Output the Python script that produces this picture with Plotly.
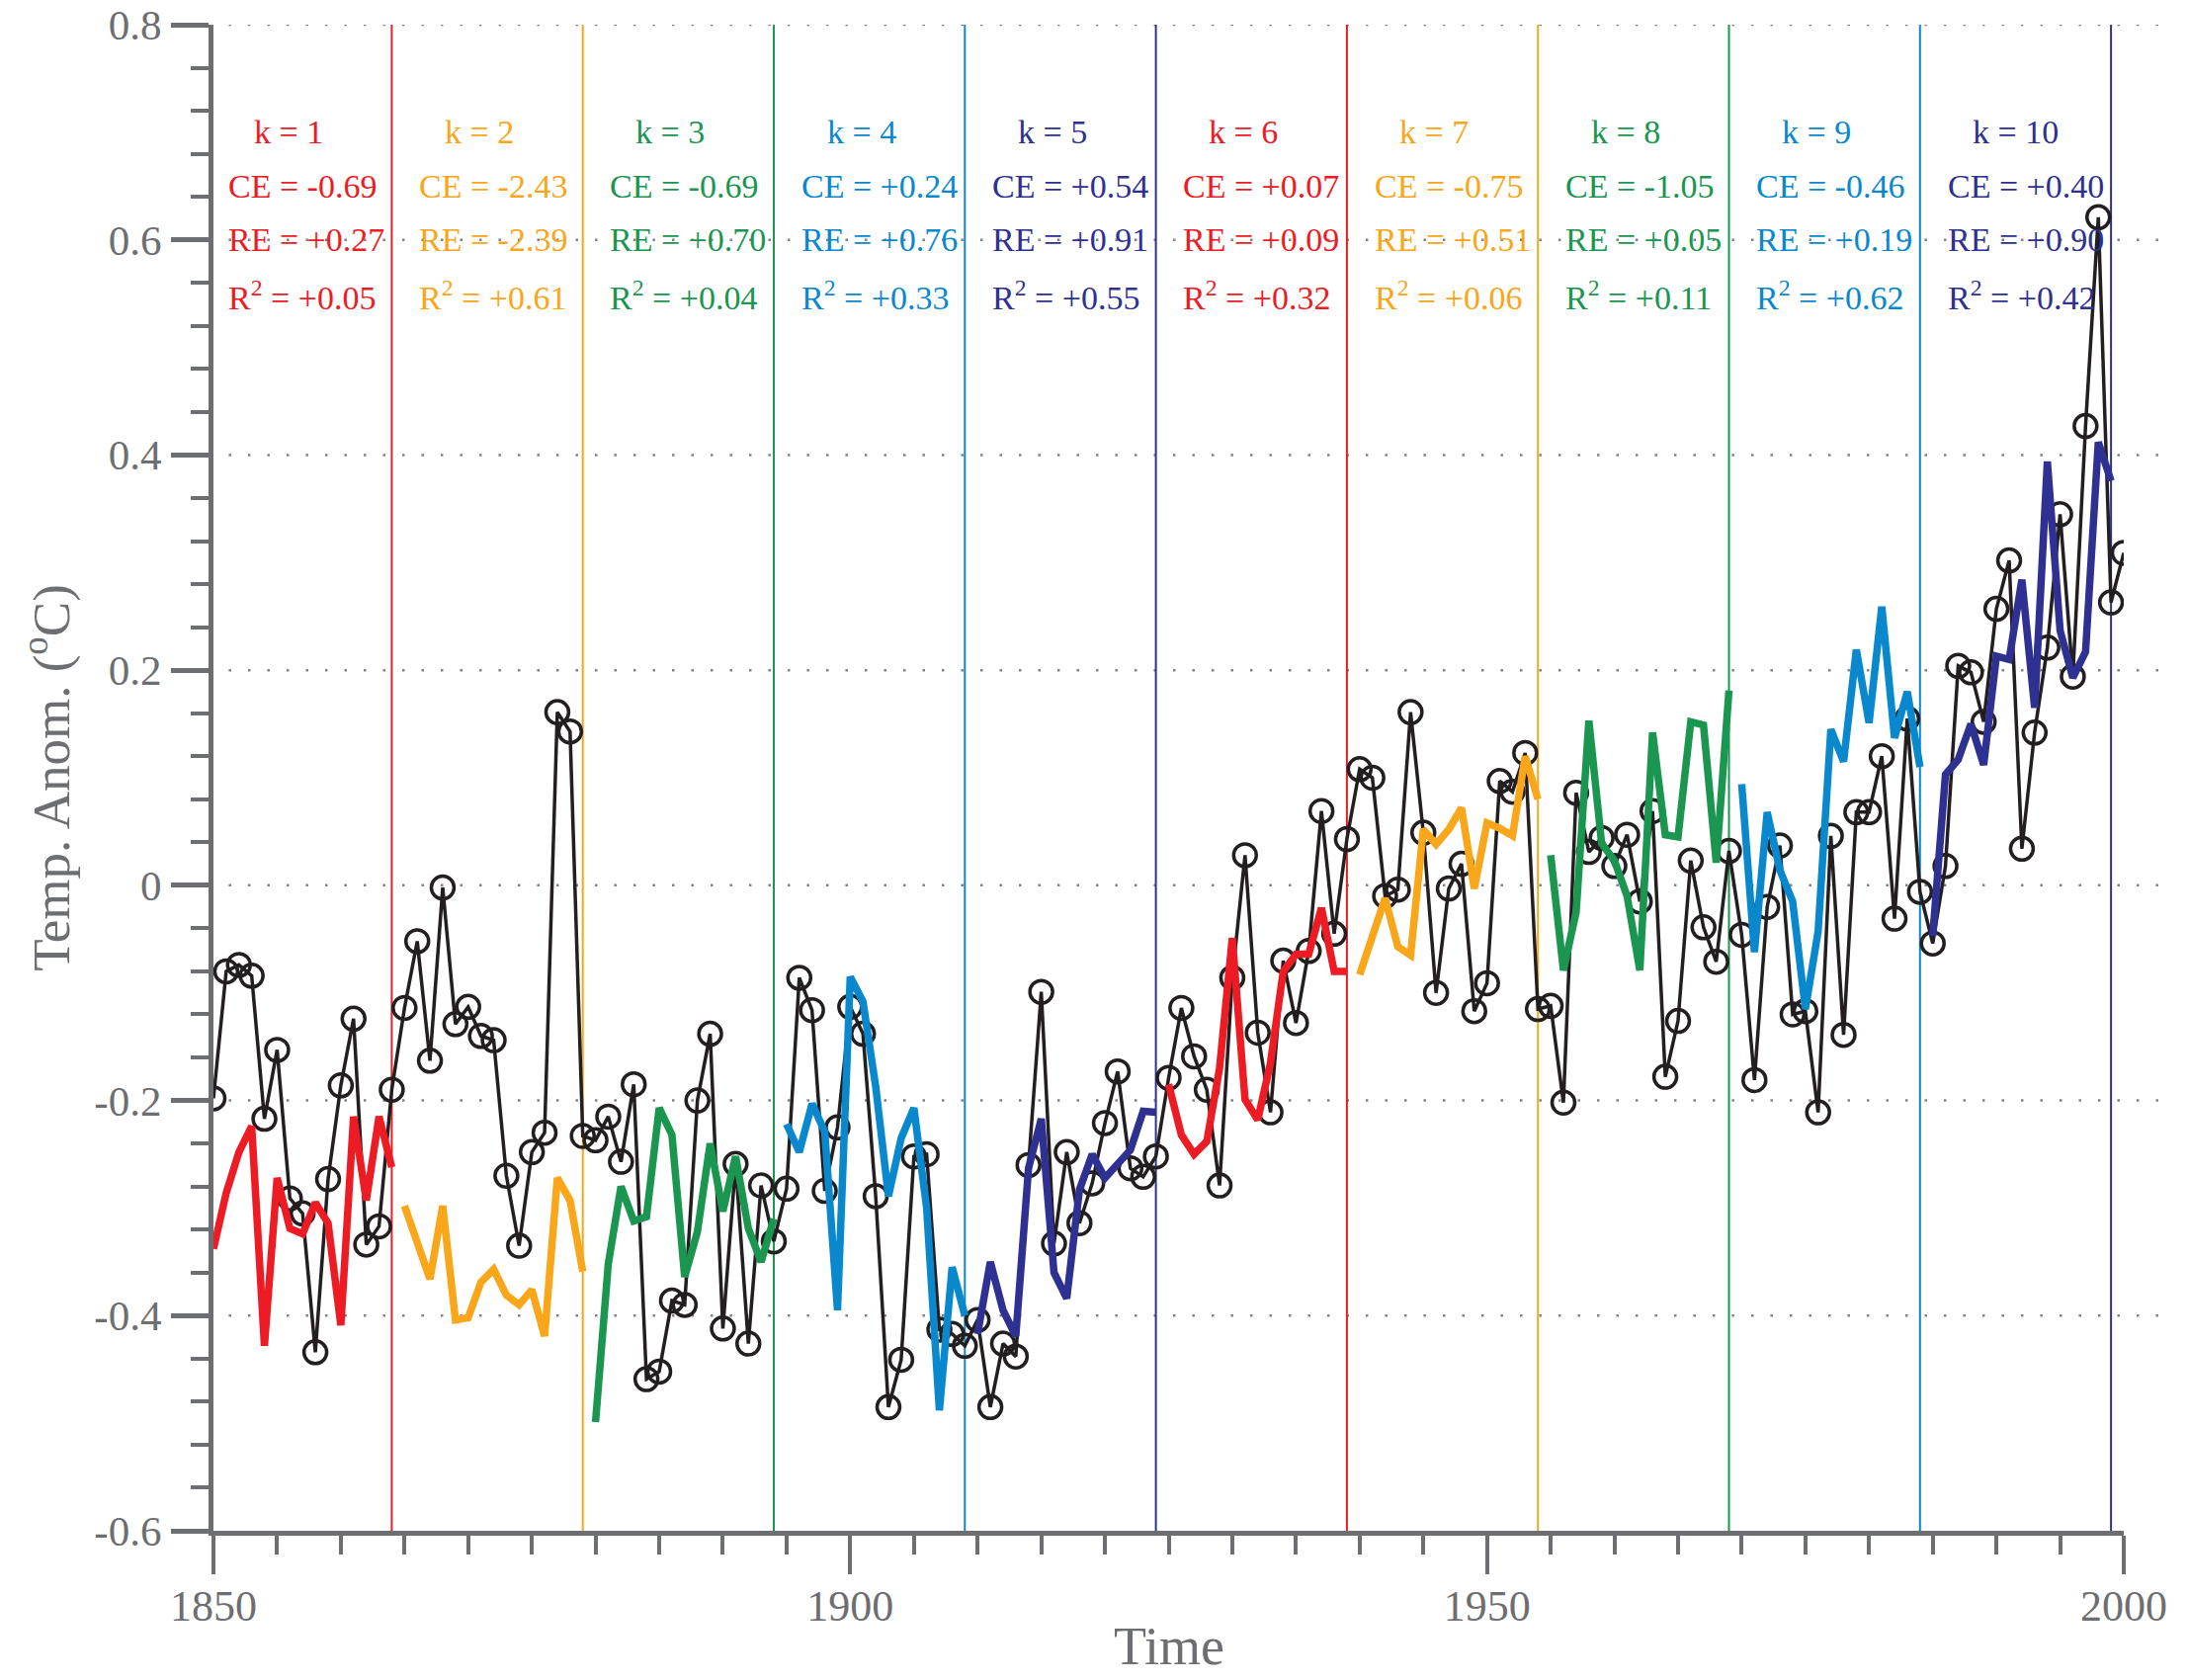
import plotly.graph_objects as go

# ---------------- data ----------------
years = list(range(1850, 2001))
observed = [
    -0.198, -0.080, -0.074, -0.084, -0.217, -0.153, -0.291, -0.305, -0.434, -0.273,
    -0.186, -0.124, -0.334, -0.317, -0.190, -0.114, -0.052, -0.163, -0.002, -0.129,
    -0.113, -0.140, -0.144, -0.270, -0.335, -0.248, -0.230, 0.161, 0.143, -0.233,
    -0.237, -0.215, -0.257, -0.185, -0.459, -0.452, -0.386, -0.390, -0.200, -0.138,
    -0.412, -0.259, -0.426, -0.279, -0.331, -0.282, -0.086, -0.116, -0.284, -0.225,
    -0.113, -0.138, -0.289, -0.485, -0.441, -0.252, -0.250, -0.413, -0.417, -0.428,
    -0.404, -0.485, -0.426, -0.438, -0.260, -0.099, -0.333, -0.248, -0.314, -0.277,
    -0.221, -0.173, -0.263, -0.271, -0.252, -0.179, -0.114, -0.159, -0.190, -0.279,
    -0.086, 0.028, -0.137, -0.211, -0.070, -0.128, -0.061, 0.069, -0.045, 0.043,
    0.108, 0.100, -0.010, -0.004, 0.161, 0.049, -0.100, -0.003, 0.020, -0.117,
    -0.091, 0.097, 0.087, 0.123, -0.115, -0.112, -0.202, 0.086, 0.031, 0.044,
    0.018, 0.047, -0.015, 0.069, -0.178, -0.126, 0.023, -0.039, -0.071, 0.032,
    -0.046, -0.181, -0.020, 0.037, -0.120, -0.117, -0.211, 0.046, -0.139, 0.068,
    0.068, 0.120, -0.031, 0.155, -0.006, -0.054, 0.018, 0.204, 0.198, 0.152,
    0.257, 0.302, 0.034, 0.142, 0.221, 0.345, 0.194, 0.427, 0.621, 0.263,
    0.309,
]

seg_start = [1850, 1865, 1880, 1895, 1910, 1925, 1940, 1955, 1970, 1985]
seg_end = [1864, 1879, 1894, 1909, 1924, 1939, 1954, 1969, 1984, 1999]

k1 = [-0.338, -0.286, -0.248, -0.224, -0.428, -0.272, -0.319, -0.324, -0.295, -0.314, -0.409, -0.215, -0.293, -0.215, -0.262]
k2 = [-0.298, -0.333, -0.366, -0.298, -0.404, -0.402, -0.369, -0.357, -0.381, -0.390, -0.376, -0.419, -0.272, -0.293, -0.359]
k3 = [-0.499, -0.352, -0.280, -0.312, -0.308, -0.207, -0.232, -0.364, -0.322, -0.240, -0.303, -0.252, -0.319, -0.350, -0.310]
k4 = [-0.222, -0.248, -0.203, -0.229, -0.395, -0.085, -0.108, -0.187, -0.289, -0.235, -0.207, -0.300, -0.488, -0.355, -0.400]
k5 = [-0.417, -0.350, -0.395, -0.419, -0.263, -0.217, -0.360, -0.384, -0.283, -0.250, -0.272, -0.258, -0.246, -0.210, -0.211]
k6 = [-0.185, -0.232, -0.250, -0.238, -0.170, -0.049, -0.199, -0.218, -0.165, -0.080, -0.064, -0.064, -0.021, -0.080, -0.080]
k7 = [-0.083, -0.047, -0.012, -0.057, -0.065, 0.052, 0.038, 0.052, 0.072, -0.003, 0.058, 0.053, 0.046, 0.120, 0.080]
k8 = [0.028, -0.079, -0.025, 0.153, 0.039, 0.023, -0.010, -0.079, 0.142, 0.047, 0.045, 0.152, 0.149, 0.021, 0.181]
k9 = [0.094, -0.062, 0.068, 0.014, -0.015, -0.115, -0.043, 0.145, 0.115, 0.219, 0.151, 0.259, 0.137, 0.180, 0.110]
k10 = [-0.047, 0.103, 0.117, 0.150, 0.112, 0.213, 0.210, 0.284, 0.165, 0.394, 0.237, 0.193, 0.217, 0.412, 0.376]
segments = [k1, k2, k3, k4, k5, k6, k7, k8, k9, k10]

k_labels = ["k = 1", "k = 2", "k = 3", "k = 4", "k = 5", "k = 6", "k = 7", "k = 8", "k = 9", "k = 10"]
ce_labels = ["-0.69", "-2.43", "-0.69", "+0.24", "+0.54", "+0.07", "-0.75", "-1.05", "-0.46", "+0.40"]
re_labels = ["+0.27", "-2.39", "+0.70", "+0.76", "+0.91", "+0.09", "+0.51", "+0.05", "+0.19", "+0.90"]
r2_labels = ["+0.05", "+0.61", "+0.04", "+0.33", "+0.55", "+0.32", "+0.06", "+0.11", "+0.62", "+0.42"]

y_ticks = [-0.6, -0.4, -0.2, 0, 0.2, 0.4, 0.6, 0.8]
y_ticktext = ["-0.6", "-0.4", "-0.2", "0", "0.2", "0.4", "0.6", "0.8"]
grid_levels = [-0.4, -0.2, 0, 0.2, 0.4, 0.6, 0.8]

# ---------------- style ----------------
palette = ["#ED1C24", "#FAA61A", "#1B9650", "#0A88CE", "#2E3192"]
seg_colors = [palette[i % 5] for i in range(10)]
GRAY = "#6D6E71"
BLACK = "#231F20"
FONT = "Liberation Serif, Times New Roman, serif"

fig = go.Figure()

# observed series
fig.add_trace(go.Scatter(
    x=years, y=observed, mode="lines+markers",
    line=dict(color=BLACK, width=3.5),
    marker=dict(symbol="circle-open", size=23, color=BLACK, line=dict(width=3.5, color=BLACK)),
    showlegend=False, hoverinfo="skip",
))

# reconstructed segments
for i, seg in enumerate(segments):
    xs = list(range(seg_start[i], seg_start[i] + len(seg)))
    fig.add_trace(go.Scatter(
        x=xs, y=seg, mode="lines",
        line=dict(color=seg_colors[i], width=7.5),
        showlegend=False, hoverinfo="skip",
    ))

shapes = []
# dotted horizontal gridlines (extend a bit beyond 2000 like the original)
for g in grid_levels:
    shapes.append(dict(type="line", xref="paper", yref="y", x0=0.008, x1=1.022, y0=g, y1=g,
                       line=dict(color="#808285", width=2.5, dash="2.5px,17px"), layer="below"))
# vertical segment boundaries
for i, xe in enumerate(seg_end):
    shapes.append(dict(type="line", xref="x", yref="y", x0=xe, x1=xe, y0=-0.6, y1=0.8,
                       line=dict(color=seg_colors[i], width=2), layer="below"))

annotations = []
for i in range(10):
    c = seg_colors[i]
    f = dict(family=FONT, size=34, color=c)
    annotations.append(dict(x=seg_start[i] + 3.0, y=0.70, xref="x", yref="y", text=k_labels[i],
                            showarrow=False, xanchor="left", yanchor="middle", font=f))
    annotations.append(dict(x=seg_start[i] + 1.0, y=0.65, xref="x", yref="y", text="CE = " + ce_labels[i],
                            showarrow=False, xanchor="left", yanchor="middle", font=f))
    annotations.append(dict(x=seg_start[i] + 1.0, y=0.60, xref="x", yref="y", text="RE = " + re_labels[i],
                            showarrow=False, xanchor="left", yanchor="middle", font=f))
    annotations.append(dict(x=seg_start[i] + 1.0, y=0.548, xref="x", yref="y", text="R<sup>2</sup> = " + r2_labels[i],
                            showarrow=False, xanchor="left", yanchor="middle", font=f))

# axis titles
annotations.append(dict(x=-0.087, y=0.50, xref="paper", yref="paper", text="Temp. Anom. (<sup>o</sup>C)",
                        textangle=-90, showarrow=False, xanchor="center", yanchor="middle",
                        font=dict(family=FONT, size=53, color=GRAY)))
annotations.append(dict(x=0.5, y=-0.0975, xref="paper", yref="paper", text="Time",
                        showarrow=False, xanchor="center", yanchor="bottom",
                        font=dict(family=FONT, size=54, color=GRAY)))

fig.update_layout(
    width=2214, height=1700,
    margin=dict(l=216, r=65, t=25, b=151, autoexpand=False),
    paper_bgcolor="white", plot_bgcolor="white",
    shapes=shapes, annotations=annotations,
    showlegend=False,
    xaxis=dict(
        range=[1850, 2000], showgrid=False, zeroline=False, automargin=False,
        showline=True, linecolor=GRAY, linewidth=5,
        ticks="outside", ticklen=39, tickwidth=4, tickcolor=GRAY,
        tick0=1850, dtick=50, ticklabelstandoff=-6,
        tickfont=dict(family=FONT, size=44, color=GRAY),
        minor=dict(ticks="outside", tick0=1850, dtick=5, ticklen=19, tickwidth=4, tickcolor=GRAY, showgrid=False),
    ),
    yaxis=dict(
        range=[-0.6, 0.8], showgrid=False, zeroline=False, automargin=False,
        showline=True, linecolor=GRAY, linewidth=5,
        ticks="outside", ticklen=38, tickwidth=5, tickcolor=GRAY,
        tickmode="array", tickvals=y_ticks, ticktext=y_ticktext, ticklabelstandoff=1,
        tickfont=dict(family=FONT, size=43, color=GRAY),
        minor=dict(ticks="outside", tickmode="linear", tick0=-0.6, dtick=0.04, ticklen=18, tickwidth=4,
                   tickcolor=GRAY, showgrid=False),
    ),
)

fig.write_html("out.html")
